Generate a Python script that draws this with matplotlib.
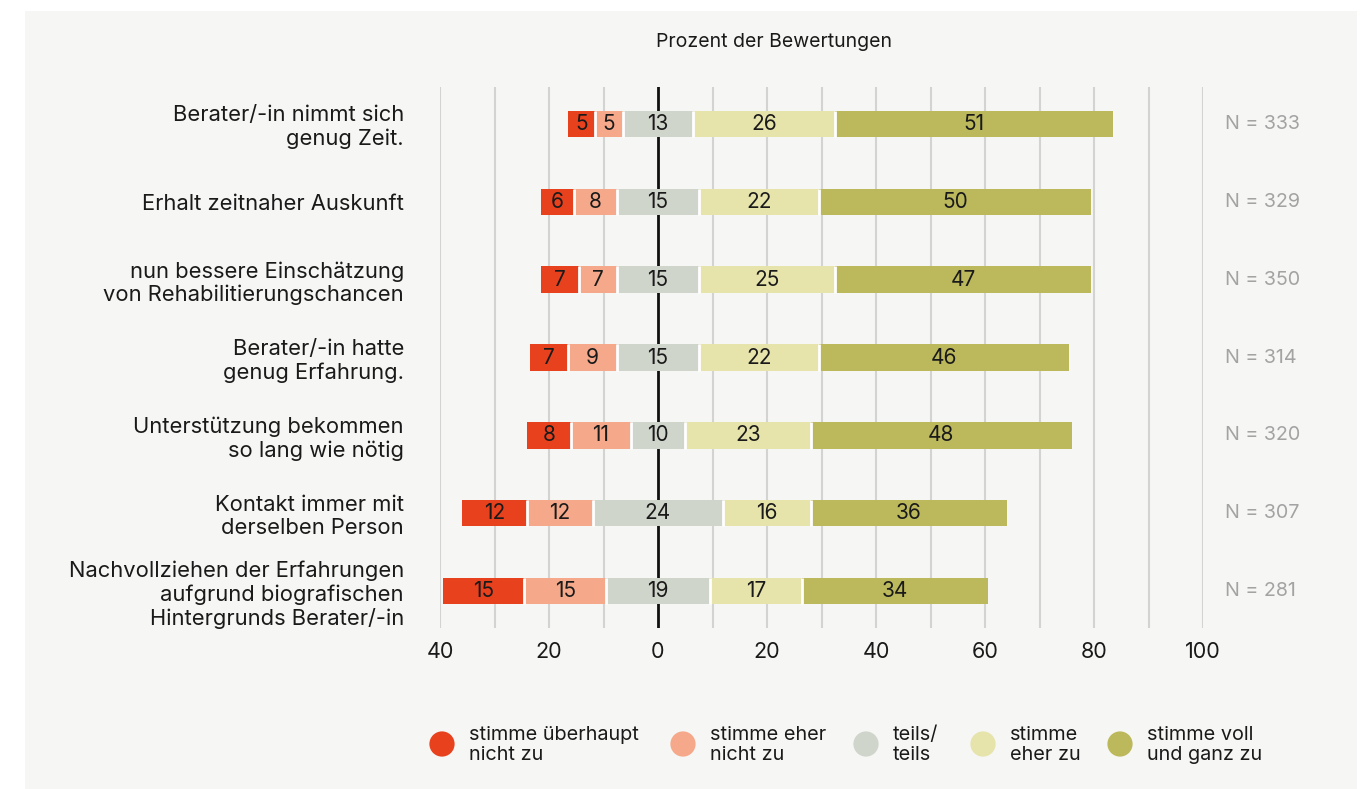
import numpy as np
import matplotlib.pyplot as plt
import matplotlib.transforms as mtransforms

plt.rcParams['font.family'] = ['Inter', 'DejaVu Sans']

# data
categories = [
    'Berater/-in nimmt sich\ngenug Zeit.',
    'Erhalt zeitnaher Auskunft',
    'nun bessere Einschätzung\nvon Rehabilitierungschancen',
    'Berater/-in hatte\ngenug Erfahrung.',
    'Unterstützung bekommen\nso lang wie nötig',
    'Kontakt immer mit\nderselben Person',
    'Nachvollziehen der Erfahrungen\naufgrund biografischen\nHintergrunds Berater/-in',
]
gar_nicht = [5, 6, 7, 7, 8, 12, 15]
eher_nicht = [5, 8, 7, 9, 11, 12, 15]
teils = [13, 15, 15, 15, 10, 24, 19]
eher_zu = [26, 22, 25, 22, 23, 16, 17]
voll = [51, 50, 47, 46, 48, 36, 34]
n_values = [333, 329, 350, 314, 320, 307, 281]

legend_labels = ['stimme überhaupt\nnicht zu', 'stimme eher\nnicht zu', 'teils/\nteils',
                 'stimme\neher zu', 'stimme voll\nund ganz zu']
colors = ['#e8411e', '#f5a98a', '#d0d5cc', '#e6e3ab', '#bcb85c']
bg = '#f6f6f4'
txt = '#1a1a1a'

W, H = 1367, 789
fig = plt.figure(figsize=(W / 100, H / 100), dpi=100)
fig.patch.set_facecolor('white')
fig.patches.append(plt.Rectangle((25 / W, 0), (1357 - 25) / W, (H - 11) / H,
                                 transform=fig.transFigure, facecolor=bg,
                                 edgecolor='none', zorder=-10))

ax = fig.add_axes([440 / W, 1 - 628 / H, (1203 - 440) / W, (628 - 87) / H])
ax.set_facecolor('none')

segs = np.array([gar_nicht, eher_nicht, teils, eher_zu, voll], dtype=float)
y = np.arange(len(categories))
bar_h = 0.335
start = -(segs[0] + segs[1] + segs[2] / 2)

left = start.copy()
for i, (vals, c) in enumerate(zip(segs, colors)):
    ax.barh(y, vals, left=left, height=bar_h, color=c, edgecolor='none', zorder=3)
    for yi, l, v in zip(y, left, vals):
        ax.text(l + v / 2, yi, f'{int(v)}', ha='center', va='center',
                fontsize=15, color=txt, zorder=5)
    left = left + vals
    if i < len(segs) - 1:
        # thin white gap between segments
        ax.vlines(left, y - bar_h / 2, y + bar_h / 2, color='white', lw=2, zorder=4)

for x in range(-40, 101, 10):
    if x == 0:
        ax.axvline(0, color='#111111', lw=2, zorder=2)
    else:
        ax.axvline(x, color='#d3d3d1', lw=1.5, zorder=1)

ax.set_xlim(-40, 100)
ax.set_ylim(len(categories) - 0.53, -0.47)
ticks = np.arange(-40, 101, 20)
ax.set_xticks(ticks)
ax.set_xticklabels([str(abs(t)) for t in ticks], fontsize=15.5, color=txt)
ax.set_yticks(y)
ax.set_yticklabels(categories, fontsize=15.8, color=txt, ha='right',
                   linespacing=1.17)
ax.tick_params(length=0, axis='x', pad=10)
ax.tick_params(length=0, axis='y', pad=26)
for s in ax.spines.values():
    s.set_visible(False)

trans = mtransforms.blended_transform_factory(fig.transFigure, ax.transData)
for yi, n in zip(y, n_values):
    ax.text(1225 / W, yi, f'N = {n}', transform=trans, fontsize=14.2,
            color='#a3a3a3', va='center', ha='left', clip_on=False)

fig.text(774 / W, 1 - 42 / H, 'Prozent der Bewertungen', ha='center',
         va='center', fontsize=14, color=txt)

# legend
lax = fig.add_axes([0, 0, 1, 1])
lax.set_xlim(0, W)
lax.set_ylim(H, 0)
lax.axis('off')
circle_x = [442, 683, 866, 983, 1120]
for cx, c, lab in zip(circle_x, colors, legend_labels):
    lax.scatter([cx], [744], s=330, color=c, edgecolor='none')
    lax.text(cx + 27, 745, lab, ha='left', va='center', fontsize=14.3,
             color=txt, linespacing=1.15)

fig.savefig('out.png', dpi=100, facecolor='white')
